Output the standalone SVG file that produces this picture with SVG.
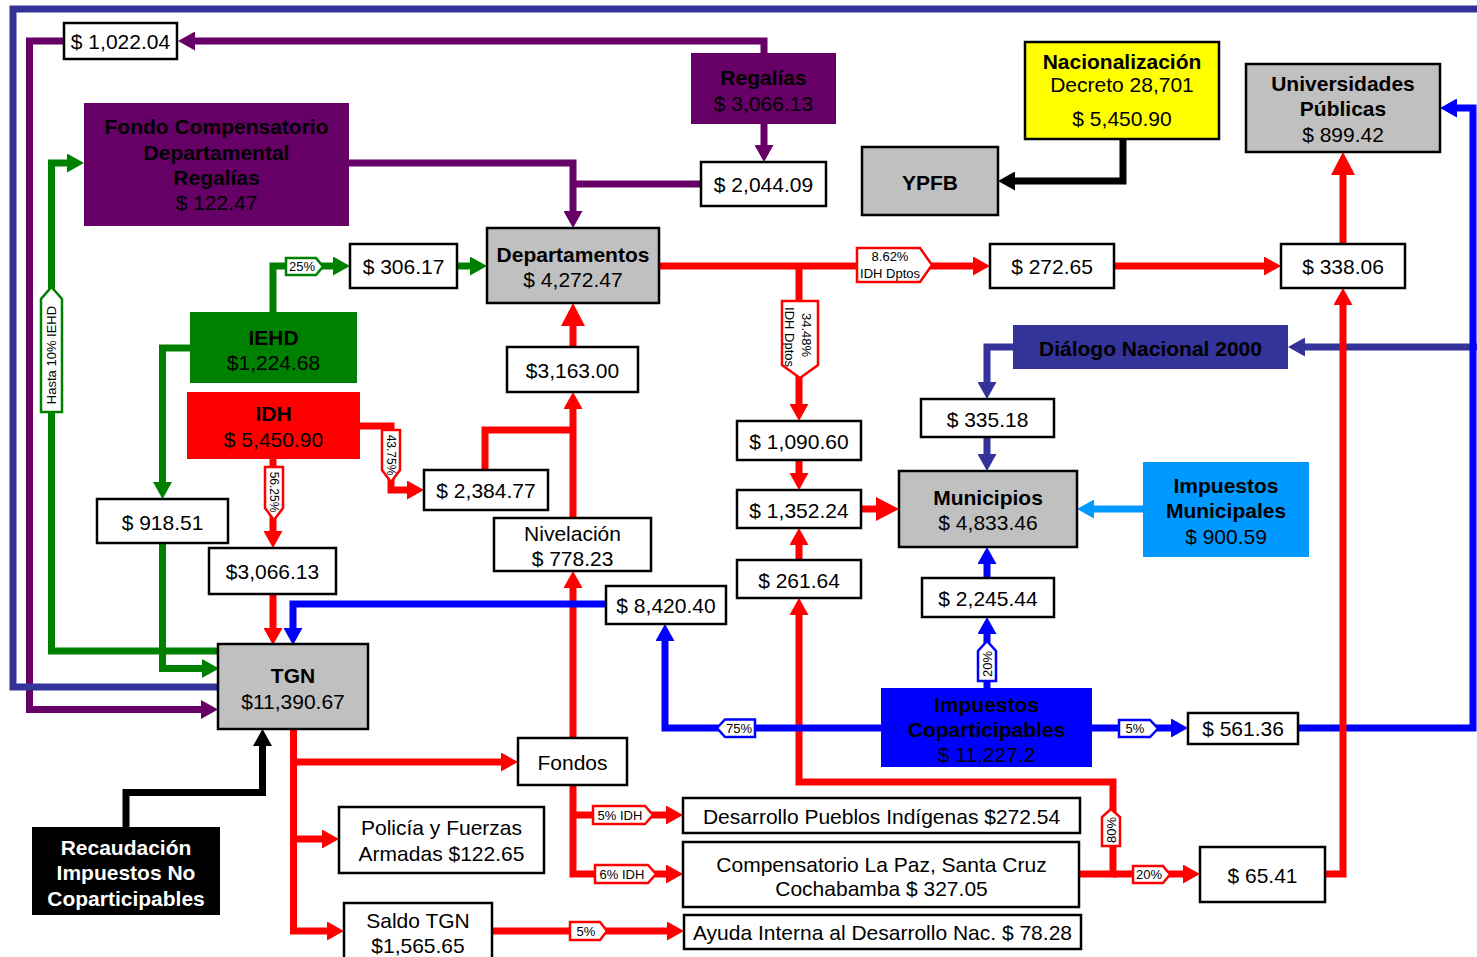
<svg xmlns="http://www.w3.org/2000/svg" width="1477" height="957" viewBox="0 0 1477 957">
<style>
.c{fill:none;stroke-width:7;stroke-linejoin:miter;stroke-linecap:butt}
.pu{stroke:#660066}.nv{stroke:#333399}.gr{stroke:#008000}.rd{stroke:#FF0000}.bl{stroke:#0000FF}.lb{stroke:#0099FF}.bk{stroke:#000}
.box{fill:#fff;stroke:#000;stroke-width:2.5}
.gray{fill:#C0C0C0;stroke:#000;stroke-width:2.5}
.t{font-family:"Liberation Sans",Arial,sans-serif;font-size:21px;text-anchor:middle;fill:#000}
.b{font-weight:bold}
.w{fill:#fff}
.tg{fill:#fff;stroke-width:2.5}
.tr{stroke:#FF0000}.tgg{stroke:#008000}.tb{stroke:#0000FF}
.s{font-family:"Liberation Sans",Arial,sans-serif;font-size:13px;text-anchor:middle;fill:#000}
.s12{font-size:12px}
</style>
<defs>
<marker id="ap" viewBox="0 0 17 19" refX="9" refY="9.5" markerWidth="17" markerHeight="19" markerUnits="userSpaceOnUse" orient="auto"><path d="M0,0L17,9.5L0,19z" fill="#660066"/></marker>
<marker id="an" viewBox="0 0 17 19" refX="9" refY="9.5" markerWidth="17" markerHeight="19" markerUnits="userSpaceOnUse" orient="auto"><path d="M0,0L17,9.5L0,19z" fill="#333399"/></marker>
<marker id="ag" viewBox="0 0 17 19" refX="9" refY="9.5" markerWidth="17" markerHeight="19" markerUnits="userSpaceOnUse" orient="auto"><path d="M0,0L17,9.5L0,19z" fill="#008000"/></marker>
<marker id="ar" viewBox="0 0 17 19" refX="9" refY="9.5" markerWidth="17" markerHeight="19" markerUnits="userSpaceOnUse" orient="auto"><path d="M0,0L17,9.5L0,19z" fill="#FF0000"/></marker>
<marker id="arL" viewBox="0 0 23 24" refX="15" refY="12" markerWidth="23" markerHeight="24" markerUnits="userSpaceOnUse" orient="auto"><path d="M0,0L23,12L0,24z" fill="#FF0000"/></marker>
<marker id="ab" viewBox="0 0 17 19" refX="9" refY="9.5" markerWidth="17" markerHeight="19" markerUnits="userSpaceOnUse" orient="auto"><path d="M0,0L17,9.5L0,19z" fill="#0000FF"/></marker>
<marker id="al" viewBox="0 0 17 19" refX="9" refY="9.5" markerWidth="17" markerHeight="19" markerUnits="userSpaceOnUse" orient="auto"><path d="M0,0L17,9.5L0,19z" fill="#0099FF"/></marker>
<marker id="ak" viewBox="0 0 17 19" refX="9" refY="9.5" markerWidth="17" markerHeight="19" markerUnits="userSpaceOnUse" orient="auto"><path d="M0,0L17,9.5L0,19z" fill="#000"/></marker>
</defs>

<g id="connectors">
<!-- purple -->
<path class="c pu" d="M764,53V41H186" marker-end="url(#ap)"/>
<path class="c pu" d="M64,41H29.5V709.5H210" marker-end="url(#ap)"/>
<path class="c pu" d="M764,124V154" marker-end="url(#ap)"/>
<path class="c pu" d="M349,163H573V220" marker-end="url(#ap)"/>
<path class="c pu" d="M701,184H573"/>
<!-- green -->
<path class="c gr" d="M273,312V266H342" marker-end="url(#ag)"/>
<path class="c gr" d="M457,266H479" marker-end="url(#ag)"/>
<path class="c gr" d="M190,348H162.5V491" marker-end="url(#ag)"/>
<path class="c gr" d="M162.5,543V668.5H211" marker-end="url(#ag)"/>
<path class="c gr" d="M219,651H51.5V163H76" marker-end="url(#ag)"/>
<!-- navy -->
<path class="c nv" d="M219,687H13V9H1481V347H1296" marker-end="url(#an)"/>
<path class="c nv" d="M1013,347H987V391" marker-end="url(#an)"/>
<path class="c nv" d="M987,437V463" marker-end="url(#an)"/>
<!-- red -->
<path class="c rd" d="M659,266H982" marker-end="url(#ar)"/>
<path class="c rd" d="M799,266V413" marker-end="url(#ar)"/>
<path class="c rd" d="M799,460V482" marker-end="url(#ar)"/>
<path class="c rd" d="M861,509H891" marker-end="url(#arL)"/>
<path class="c rd" d="M799,560V536" marker-end="url(#ar)"/>
<path class="c rd" d="M1079,874H1113V782H799V606" marker-end="url(#ar)"/>
<path class="c rd" d="M1113,874H1192" marker-end="url(#ar)"/>
<path class="c rd" d="M1114,266H1273" marker-end="url(#ar)"/>
<path class="c rd" d="M1343,244V160" marker-end="url(#arL)"/>
<path class="c rd" d="M360,426H391V490H416" marker-end="url(#ar)"/>
<path class="c rd" d="M273,459V540" marker-end="url(#ar)"/>
<path class="c rd" d="M273,594V637" marker-end="url(#ar)"/>
<path class="c rd" d="M485,470V430H573"/>
<path class="c rd" d="M573,518V400" marker-end="url(#ar)"/>
<path class="c rd" d="M573,347V311" marker-end="url(#arL)"/>
<path class="c rd" d="M573,738V579" marker-end="url(#ar)"/>
<path class="c rd" d="M293.5,729V931H336" marker-end="url(#ar)"/>
<path class="c rd" d="M293.5,762H510" marker-end="url(#ar)"/>
<path class="c rd" d="M293.5,839H331" marker-end="url(#ar)"/>
<path class="c rd" d="M492,931H676" marker-end="url(#ar)"/>
<path class="c rd" d="M573,785V874H675" marker-end="url(#ar)"/>
<path class="c rd" d="M573,815H675" marker-end="url(#ar)"/>
<!-- blue -->
<path class="c bl" d="M881,728H665V632" marker-end="url(#ab)"/>
<path class="c bl" d="M606,604H293V637" marker-end="url(#ab)"/>
<path class="c bl" d="M987,688V625" marker-end="url(#ab)"/>
<path class="c bl" d="M987,578V555" marker-end="url(#ab)"/>
<path class="c bl" d="M1092,728H1180" marker-end="url(#ab)"/>
<path class="c bl" d="M1297,728H1473V108H1448" marker-end="url(#ab)"/>
<path class="c rd" d="M1325,874H1343V296" marker-end="url(#ar)"/>
<!-- light blue -->
<path class="c lb" d="M1143,509H1085" marker-end="url(#al)"/>
<!-- black -->
<path class="c bk" d="M1123,139V181H1006" marker-end="url(#ak)"/>
<path class="c bk" d="M126,827V792.5H262.5V737" marker-end="url(#ak)"/>

<!-- tags -->
<polygon class="tg tgg" points="286,258 316,258 323,266.5 316,275 286,275"/>
<text class="s" x="302" y="271">25%</text>
<polygon class="tg tgg" points="51.5,287 62,299 62,412 41,412 41,299"/>
<text class="s" x="51.5" y="359.6" transform="rotate(-90 51.5 355)">Hasta 10% IEHD</text>
<polygon class="tg tr" points="382,430 400,430 400,470 391,482 382,470"/>
<text class="s s12" x="391" y="459.3" transform="rotate(90 391 455)">43.75%</text>
<polygon class="tg tr" points="265,467 283,467 283,508 274,520 265,508"/>
<text class="s s12" x="274" y="496.3" transform="rotate(90 274 492)">56.25%</text>
<polygon class="tg tr" points="782,301 818,301 818,365 800,378 782,365"/>
<text class="s" x="807" y="339.6" transform="rotate(90 807 335)">34.48%</text>
<text class="s" x="790" y="341.6" transform="rotate(90 790 337)">IDH Dptos</text>
<polygon class="tg tr" points="857,248 920,248 932,265 920,282 857,282"/>
<text class="s" x="890" y="260.6">8.62%</text>
<text class="s" x="890" y="277.6">IDH Dptos</text>
<polygon class="tg tb" points="717,728 725,719.5 755,719.5 755,737 725,737"/>
<text class="s" x="739" y="733">75%</text>
<polygon class="tg tb" points="987,641 996,651 996,681 978,681 978,651"/>
<text class="s" x="987" y="668.6" transform="rotate(-90 987 664)">20%</text>
<polygon class="tg tb" points="1119,720 1150,720 1158,728.5 1150,737 1119,737"/>
<text class="s" x="1135" y="733">5%</text>
<polygon class="tg tr" points="593,806 645,806 653,815 645,824 593,824"/>
<text class="s" x="620" y="819.5">5% IDH</text>
<polygon class="tg tr" points="595,865 648,865 656,874 648,883 595,883"/>
<text class="s" x="622" y="878.5">6% IDH</text>
<polygon class="tg tr" points="570,922 600,922 607,931 600,940 570,940"/>
<text class="s" x="586" y="935.5">5%</text>
<polygon class="tg tr" points="1111,809 1120,817 1120,846 1102,846 1102,817"/>
<text class="s" x="1111" y="834.6" transform="rotate(-90 1111 830)">80%</text>
<polygon class="tg tr" points="1133,866 1163,866 1170,874.5 1163,883 1133,883"/>
<text class="s" x="1149" y="879">20%</text>
</g>

<g id="n1022"><rect class="box" x="64" y="23" width="113" height="36"/><text class="t" x="120.5" y="48.5">$ 1,022.04</text></g>
<g id="fondo"><rect x="84" y="103" width="265" height="123" fill="#660066"/><text class="t b" x="216.5" y="134">Fondo Compensatorio</text><text class="t b" x="216.5" y="160">Departamental</text><text class="t b" x="216.5" y="185">Regalías</text><text class="t" x="216.5" y="210">$ 122.47</text></g>
<g id="regalias"><rect x="691" y="53" width="145" height="71" fill="#660066"/><text class="t b" x="763.5" y="84.5">Regalías</text><text class="t" x="763.5" y="110.5">$ 3,066.13</text></g>
<g id="n2044"><rect class="box" x="701" y="162" width="125" height="44"/><text class="t" x="763.5" y="191.5">$ 2,044.09</text></g>
<g id="nacionalizacion"><rect x="1025" y="42" width="194" height="97" fill="#FFFF00" stroke="#000" stroke-width="2.5"/><text class="t b" x="1122" y="69">Nacionalización</text><text class="t" x="1122" y="92">Decreto 28,701</text><text class="t" x="1122" y="126">$ 5,450.90</text></g>
<g id="ypfb"><rect class="gray" x="862" y="147" width="136" height="68"/><text class="t b" x="930" y="189.5">YPFB</text></g>
<g id="universidades"><rect class="gray" x="1246" y="64" width="194" height="88"/><text class="t b" x="1343" y="91">Universidades</text><text class="t b" x="1343" y="116">Públicas</text><text class="t" x="1343" y="142">$ 899.42</text></g>
<g id="n306"><rect class="box" x="350" y="244" width="107" height="44"/><text class="t" x="403.5" y="273.5">$ 306.17</text></g>
<g id="departamentos"><rect class="gray" x="487" y="228" width="172" height="75"/><text class="t b" x="573" y="262">Departamentos</text><text class="t" x="573" y="287">$ 4,272.47</text></g>
<g id="n272"><rect class="box" x="990" y="244" width="124" height="44"/><text class="t" x="1052" y="273.5">$ 272.65</text></g>
<g id="n338"><rect class="box" x="1281" y="244" width="124" height="44"/><text class="t" x="1343" y="273.5">$ 338.06</text></g>
<g id="iehd"><rect x="190" y="312" width="167" height="71" fill="#008000"/><text class="t b" x="273.5" y="344.5">IEHD</text><text class="t" x="273.5" y="369.5">$1,224.68</text></g>
<g id="idh"><rect x="187" y="392" width="173" height="67" fill="#FF0000"/><text class="t b" x="273.5" y="420.5">IDH</text><text class="t" x="273.5" y="446.5">$ 5,450.90</text></g>
<g id="n3163"><rect class="box" x="507" y="347" width="131" height="45"/><text class="t" x="572.5" y="377.5">$3,163.00</text></g>
<g id="dialogo"><rect x="1013" y="325" width="275" height="44" fill="#333399"/><text class="t b" x="1150.5" y="355.5">Diálogo Nacional 2000</text></g>
<g id="n335"><rect class="box" x="921" y="399" width="133" height="38"/><text class="t" x="987.5" y="427">$ 335.18</text></g>
<g id="n1090"><rect class="box" x="737" y="421" width="124" height="39"/><text class="t" x="799" y="448.5">$ 1,090.60</text></g>
<g id="n2384"><rect class="box" x="424" y="470" width="124" height="40"/><text class="t" x="486" y="497.5">$ 2,384.77</text></g>
<g id="n918"><rect class="box" x="97" y="499" width="131" height="44"/><text class="t" x="162.5" y="530">$ 918.51</text></g>
<g id="municipios"><rect class="gray" x="899" y="471" width="178" height="76"/><text class="t b" x="988" y="505">Municipios</text><text class="t" x="988" y="530">$ 4,833.46</text></g>
<g id="impuestosMunicipales"><rect x="1143" y="462" width="166" height="95" fill="#0099FF"/><text class="t b" x="1226" y="493">Impuestos</text><text class="t b" x="1226" y="518">Municipales</text><text class="t" x="1226" y="544">$ 900.59</text></g>
<g id="n1352"><rect class="box" x="737" y="490" width="124" height="38"/><text class="t" x="799" y="518">$ 1,352.24</text></g>
<g id="nivelacion"><rect class="box" x="494" y="518" width="157" height="53"/><text class="t" x="572.5" y="540.5">Nivelación</text><text class="t" x="572.5" y="565.5">$ 778.23</text></g>
<g id="n3066"><rect class="box" x="209" y="548" width="127" height="46"/><text class="t" x="272.5" y="579">$3,066.13</text></g>
<g id="n261"><rect class="box" x="737" y="560" width="124" height="38"/><text class="t" x="799" y="587.5">$ 261.64</text></g>
<g id="n2245"><rect class="box" x="922" y="578" width="132" height="39"/><text class="t" x="988" y="605.5">$ 2,245.44</text></g>
<g id="n8420"><rect class="box" x="606" y="586" width="120" height="38"/><text class="t" x="666" y="613">$ 8,420.40</text></g>
<g id="tgn"><rect class="gray" x="218" y="644" width="150" height="85"/><text class="t b" x="293" y="683">TGN</text><text class="t" x="293" y="708.5">$11,390.67</text></g>
<g id="impuestosCoparticipables"><rect x="881" y="688" width="211" height="79" fill="#0000FF"/><text class="t b" x="986.5" y="711.5">Impuestos</text><text class="t b" x="986.5" y="736.5">Coparticipables</text><text class="t" x="986.5" y="761.5">$ 11,227.2</text></g>
<g id="n561"><rect class="box" x="1188" y="713" width="110" height="31"/><text class="t" x="1243" y="735.5">$ 561.36</text></g>
<g id="fondos"><rect class="box" x="518" y="738" width="109" height="47"/><text class="t" x="572.5" y="769.5">Fondos</text></g>
<g id="policia"><rect class="box" x="339" y="807" width="205" height="66"/><text class="t" x="441.5" y="835">Policía y Fuerzas</text><text class="t" x="441.5" y="860.5">Armadas $122.65</text></g>
<g id="desarrollo"><rect class="box" x="683" y="798" width="397" height="35"/><text class="t" x="881.5" y="824">Desarrollo Pueblos Indígenas $272.54</text></g>
<g id="compensatorio"><rect class="box" x="683" y="842" width="396" height="65"/><text class="t" x="881.5" y="871.5">Compensatorio La Paz, Santa Cruz</text><text class="t" x="881.5" y="896">Cochabamba $ 327.05</text></g>
<g id="n65"><rect class="box" x="1200" y="847" width="125" height="55"/><text class="t" x="1262.5" y="882.5">$ 65.41</text></g>
<g id="recaudacion"><rect x="32" y="827" width="188" height="88" fill="#000"/><text class="t b w" x="126" y="854.5">Recaudación</text><text class="t b w" x="126" y="880">Impuestos No</text><text class="t b w" x="126" y="905.5">Coparticipables</text></g>
<g id="saldo"><rect class="box" x="344" y="903" width="148" height="62"/><text class="t" x="418" y="928">Saldo TGN</text><text class="t" x="418" y="952.5">$1,565.65</text></g>
<g id="ayuda"><rect class="box" x="684" y="915" width="397" height="34"/><text class="t" x="882.5" y="940">Ayuda Interna al Desarrollo Nac. $ 78.28</text></g>
</svg>
